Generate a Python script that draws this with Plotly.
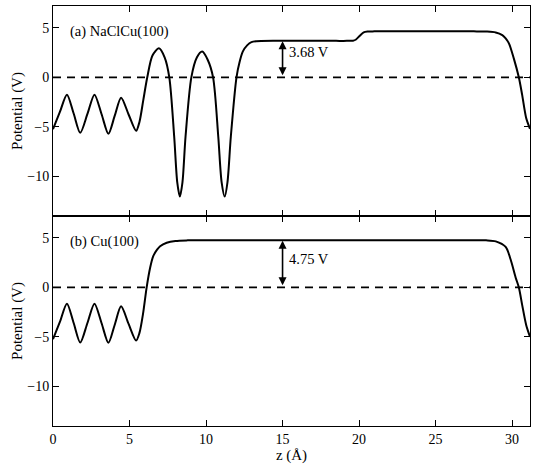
import plotly.graph_objects as go
from plotly.subplots import make_subplots

# Panel (a) NaClCu(100): z (Å) and potential (V)
z_a = [0.0, 0.45, 0.91, 1.35, 1.78, 2.25, 2.71, 3.17, 3.62, 4.03, 4.45, 4.94, 5.43,
       5.65, 5.9, 6.16, 6.5, 6.92, 7.3, 7.6, 7.92, 8.12, 8.29, 8.46, 8.66, 9.04,
       9.4, 9.75, 10.1, 10.46, 10.8, 11.02, 11.22, 11.4, 11.62, 11.99,
       12.2, 12.4, 12.7, 12.97, 13.3, 13.6, 14.5, 15.5, 16.5, 17.5, 18.5, 19.2, 19.6, 19.8,
       20.05, 20.3, 20.55, 21.0, 22.0, 23.5, 25.0, 26.5, 27.5, 28.3, 28.93, 29.36, 29.58, 29.8,
       30.12, 30.44, 30.66, 30.92, 31.17]
v_a = [-5.24, -3.5, -1.75, -3.65, -5.6, -3.7, -1.75, -3.7, -5.7, -3.9, -2.05, -3.75, -5.4,
       -4.5, -2.3, 0.0, 2.2, 2.93, 2.0, 0.0, -6.0, -10.6, -12.04, -10.6, -6.0, 0.0,
       2.0, 2.6, 1.8, 0.0, -6.0, -10.6, -12.04, -10.6, -6.0, 0.0,
       1.6, 2.6, 3.25, 3.55, 3.64, 3.67, 3.68, 3.68, 3.68, 3.68, 3.68, 3.68, 3.7, 3.82,
       4.2, 4.53, 4.62, 4.64, 4.65, 4.65, 4.65, 4.65, 4.64, 4.62, 4.53, 4.26, 3.93, 3.4,
       1.86, 0.0, -1.8, -4.1, -5.2]

# Panel (b) Cu(100)
z_b = [0.0, 0.45, 0.91, 1.35, 1.78, 2.25, 2.71, 3.17, 3.62, 4.03, 4.45, 4.94, 5.43,
       5.65, 5.88, 6.12, 6.35, 6.55, 6.8, 7.0, 7.43, 8.0, 8.8, 10.0, 12.0, 14.0, 16.0,
       18.0, 20.0, 22.0, 24.0, 26.0, 27.5, 28.3, 28.93, 29.58, 29.9, 30.23, 30.44, 30.66,
       30.92, 31.17]
v_b = [-5.24, -3.5, -1.65, -3.6, -5.57, -3.6, -1.65, -3.6, -5.6, -3.8, -1.92, -3.7, -5.37,
       -4.6, -2.7, 0.0, 2.0, 3.15, 3.8, 4.15, 4.5, 4.68, 4.74, 4.75, 4.75, 4.75, 4.75,
       4.75, 4.75, 4.75, 4.75, 4.75, 4.75, 4.74, 4.64, 4.08, 2.83, 1.0, 0.0, -1.8,
       -3.8, -5.0]

work_functions = [3.68, 4.75]
panel_labels = ["(a) NaClCu(100)", "(b) Cu(100)"]
x_ticks = [0, 5, 10, 15, 20, 25, 30]
y_ticks = [-10, -5, 0, 5]
z_range = [0, 31.17]
v_range = [-14, 7.2]
arrow_z = 15

FONT = "Liberation Serif, Times New Roman, serif"

fig = make_subplots(rows=2, cols=1, shared_xaxes=True, vertical_spacing=0)

for i, (zz, vv) in enumerate([(z_a, v_a), (z_b, v_b)], start=1):
    fig.add_trace(go.Scatter(x=z_range, y=[0, 0], mode="lines",
                             line=dict(color="black", width=1.8, dash="8px,6px"),
                             showlegend=False, hoverinfo="skip"), row=i, col=1)
    fig.add_trace(go.Scatter(x=zz, y=vv, mode="lines",
                             line=dict(color="black", width=2, shape="spline", smoothing=0.8),
                             showlegend=False), row=i, col=1)

label_y = [2.55, 2.85]
for i in (1, 2):
    xr = "x" if i == 1 else "x2"
    yr = "y" if i == 1 else "y2"
    wf = work_functions[i - 1]
    fig.add_annotation(x=arrow_z, y=wf - 0.05, ax=arrow_z, ay=0.05, xref=xr, yref=yr,
                       axref=xr, ayref=yr, showarrow=True, arrowhead=2, arrowside="end+start",
                       arrowsize=1, arrowwidth=1.6, arrowcolor="black", text="")
    fig.add_annotation(x=arrow_z + 0.3, y=label_y[i - 1], xref=xr, yref=yr, text=f"{wf:.2f} V",
                       showarrow=False, xanchor="left", yanchor="middle",
                       font=dict(family=FONT, size=14.5, color="black"))
    fig.add_annotation(x=0.95, y=4.6, xref=xr, yref=yr, text=panel_labels[i - 1],
                       showarrow=False, xanchor="left", yanchor="middle",
                       font=dict(family=FONT, size=14.5, color="black"))

axis_common = dict(showline=True, linecolor="black", linewidth=1, mirror="ticks",
                   ticks="inside", ticklen=6, tickcolor="black", tickwidth=1,
                   showgrid=False, zeroline=False,
                   tickfont=dict(family=FONT, size=14, color="black"))

fig.update_xaxes(range=z_range, tickvals=x_ticks, **axis_common)
fig.update_xaxes(showticklabels=False, row=1, col=1)
fig.update_xaxes(title=dict(text="z (Å)", font=dict(family=FONT, size=15, color="black"),
                            standoff=2), row=2, col=1)
fig.update_yaxes(range=v_range, tickvals=y_ticks,
                 ticktext=["\u221210", "\u22125", "0", "5"],
                 title=dict(text="Potential (V)", font=dict(family=FONT, size=15, color="black"),
                            standoff=1),
                 **axis_common)

fig.update_layout(width=538, height=464, margin=dict(l=53, r=8, t=5, b=37),
                  paper_bgcolor="white", plot_bgcolor="white")

fig.write_html("out.html")
